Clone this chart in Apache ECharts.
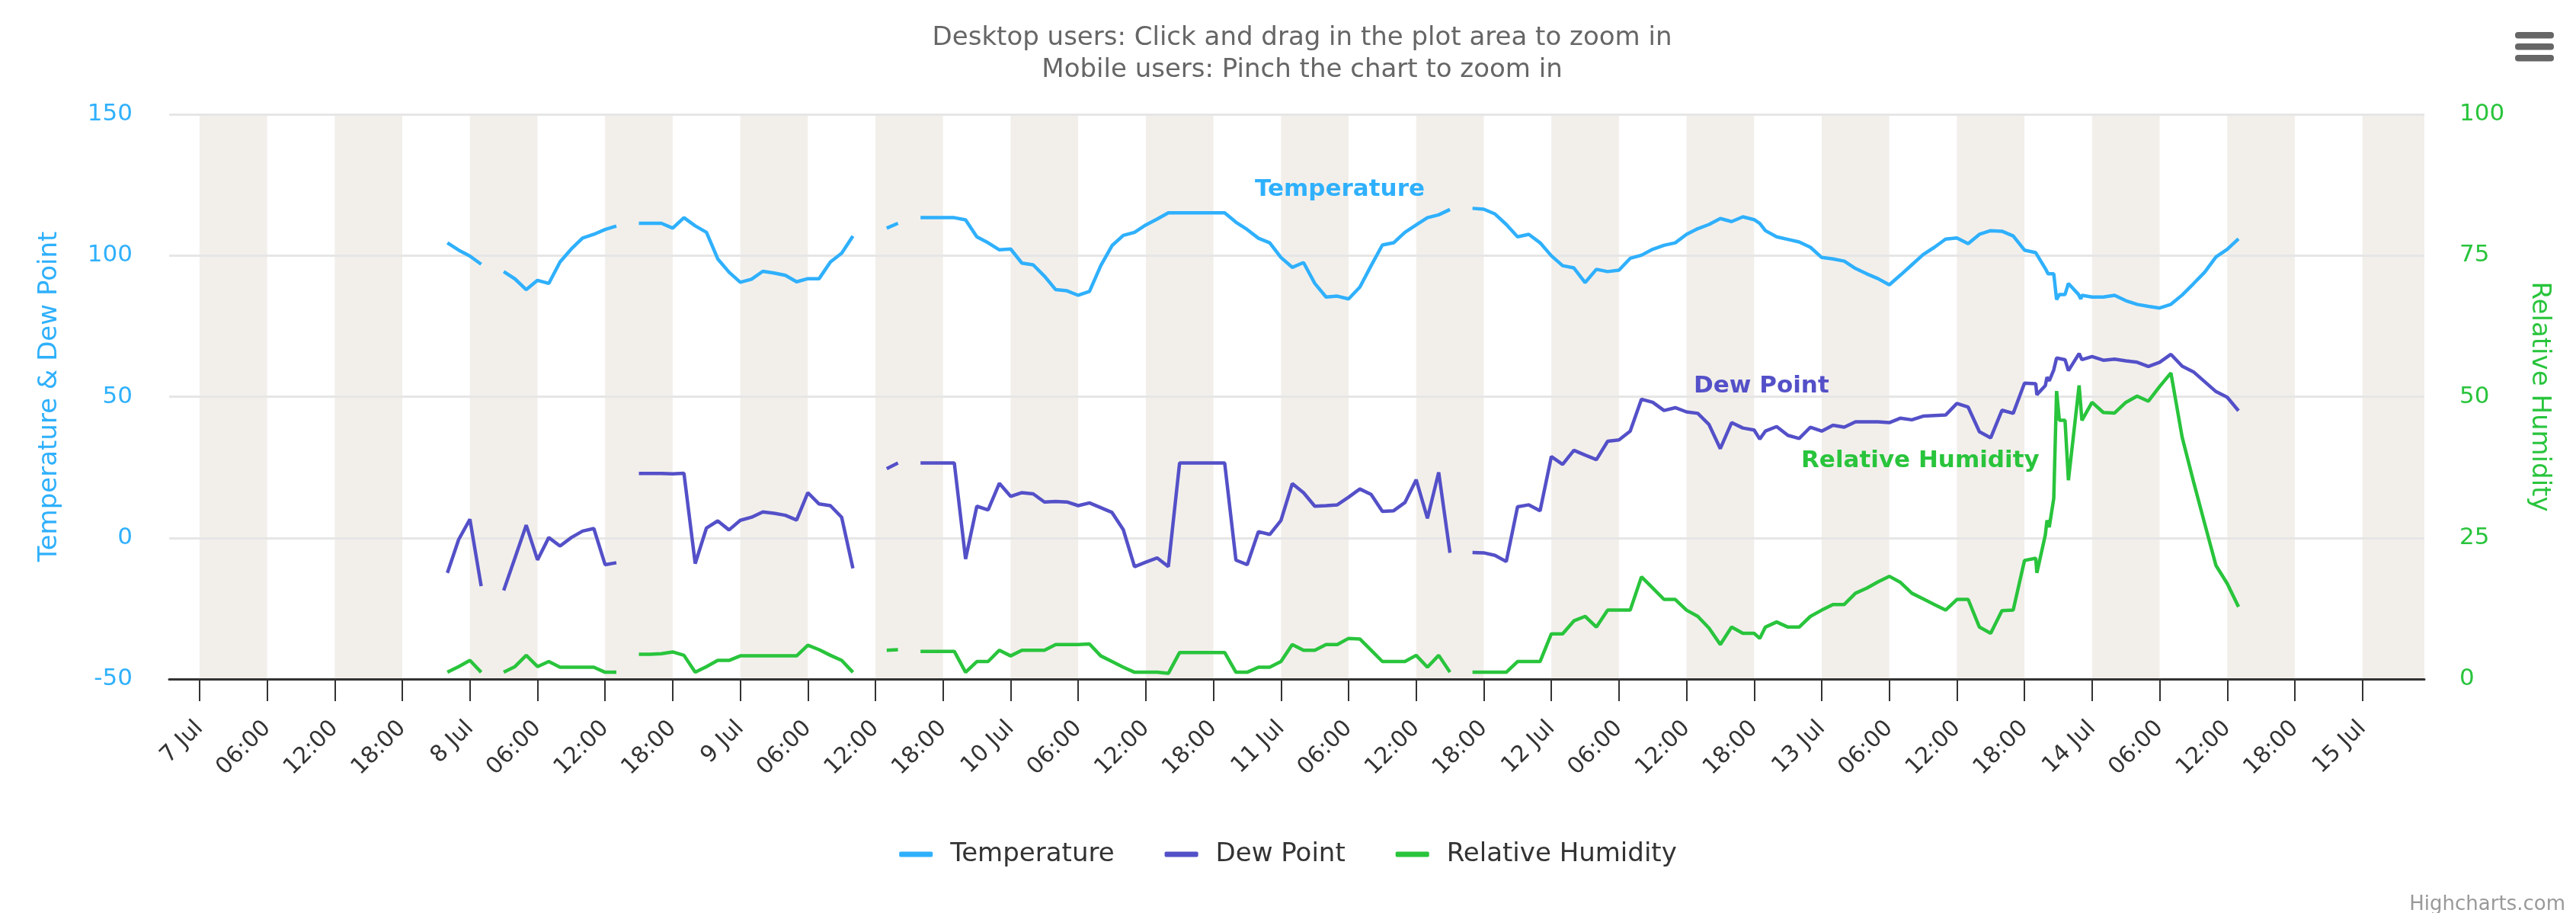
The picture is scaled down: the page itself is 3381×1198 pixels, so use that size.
<!DOCTYPE html>
<html>
<head>
<meta charset="utf-8">
<script src="https://cdn.jsdelivr.net/npm/echarts@6/dist/echarts.min.js"></script>
<style>
html, body { margin: 0; padding: 0; background: #fff; }
#chart { width: 3381px; height: 1198px; }
</style>
</head>
<body>
<div id="chart"></div>
<script>
// hours counted from 7 Jul 00:00
var xMin = -2.7, xMax = 197.5;
var tickHours = [0, 6, 12, 18, 24, 30, 36, 42, 48, 54, 60, 66, 72, 78, 84, 90, 96,
  102, 108, 114, 120, 126, 132, 138, 144, 150, 156, 162, 168, 174, 180, 186, 192];
var bandStarts = [0, 12, 24, 36, 48, 60, 72, 84, 96, 108, 120, 132, 144, 156, 168, 180, 192];

var temperature = [
  [22,104.5],[23,101.9],[24,99.8],[25,96.9],[26,null],
  [27,94.3],[28,91.7],[29,87.9],[30,91.2],[31,90.1],[32,97.7],[33,102.3],[34,106.2],[35,107.5],[36,109.2],[37,110.4],[38,null],
  [39,111.4],[40,111.4],[41,111.4],[42,109.7],[43,113.4],[44,110.5],[45,108.2],[46,98.8],[47,94.1],[48,90.5],[49,91.6],
  [50,94.4],[51,93.8],[52,93.0],[53,90.7],[54,91.8],[55,91.8],[56,97.7],[57,100.8],[58,106.9],[59,null],
  [61,109.7],[62,111.4],[63,null],
  [64,113.4],[65,113.4],[66,113.4],[67,113.4],[68,112.6],[69,106.6],[70,104.5],[71,102.0],[72,102.3],[73,97.3],[74,96.7],
  [75,92.7],[76,87.9],[77,87.5],[78,85.9],[79,87.3],[80,96.4],[81,103.5],[82,107.1],[83,108.2],[84,110.8],[85,112.9],
  [86,115.1],[87,115.1],[88,115.1],[89,115.1],[90,115.1],[91,115.1],[92,111.8],[93,109.2],[94,106.1],[95,104.5],[96,99.3],
  [97,95.8],[98,97.5],[99,90.1],[100,85.3],[101,85.6],[102,84.6],[103,88.8],[104,96.4],[105,103.7],[106,104.5],[107,108.2],
  [108,110.8],[109,113.4],[110,114.4],[111,116.3],[112,null],
  [113,116.7],[114,116.4],[115,114.7],[116,111.0],[117,106.6],[118,107.5],[119,104.5],[120,99.9],[121,96.4],[122,95.6],
  [123,90.4],[124,95.1],[125,94.3],[126,94.8],[127,99.0],[128,100.1],[129,102.2],[130,103.6],[131,104.5],[132,107.5],
  [133,109.5],[134,111.0],[135,113.1],[136,112.0],[137,113.7],[138,112.7],[138.5,111.4],[139,108.8],[140,106.6],[141,105.7],
  [142,104.8],[143,102.9],[144,99.3],[145,98.8],[146,98.0],[147,95.4],[148,93.5],[149,91.8],[150,89.6],[151,93.1],
  [152,96.7],[153,100.3],[154,102.9],[155,105.8],[156,106.2],[157,104.2],[158,107.5],[159,108.8],[160,108.6],[161,106.9],
  [162,101.9],[163,101.0],[163.85,95.4],[164.1,93.5],[164.6,93.5],[164.85,84.4],[165.1,86.2],[165.6,86.2],[165.9,90.1],
  [166.8,86.2],[167.0,84.6],[167.1,85.9],[168,85.3],[169,85.3],[170,85.9],[171,84.0],[172,82.7],[173,82.0],[174,81.4],
  [175,82.7],[176,86.0],[177,90.0],[178,94.1],[179,99.5],[180,102.2],[181,105.9]
];

var dewPoint = [
  [22,-12.4],[23,-0.6],[24,6.6],[25,-17.1],[26,null],
  [27,-18.6],[28,-7.1],[29,4.5],[30,-7.8],[31,0.1],[32,-2.9],[33,0.1],[34,2.4],[35,3.3],[36,-9.5],[37,-8.8],[38,null],
  [39,22.8],[40,22.8],[41,22.8],[42,22.7],[43,22.9],[44,-9.1],[45,3.5],[46,6.0],[47,2.8],[48,6.2],[49,7.3],
  [50,9.2],[51,8.7],[52,8.0],[53,6.3],[54,16.0],[55,12.0],[56,11.4],[57,7.3],[58,-10.8],[59,null],
  [61,24.5],[62,26.5],[63,null],
  [64,26.5],[65,26.5],[66,26.5],[67,26.5],[68,-7.5],[69,11.2],[70,9.9],[71,19.3],[72,14.7],[73,16.0],[74,15.6],
  [75,12.7],[76,12.9],[77,12.7],[78,11.4],[79,12.4],[80,10.7],[81,9.0],[82,2.9],[83,-10.2],[84,-8.6],[85,-7.1],
  [86,-10.2],[87,26.5],[88,26.5],[89,26.5],[90,26.5],[91,26.5],[92,-7.9],[93,-9.5],[94,2.2],[95,1.2],[96,6.2],
  [97,19.2],[98,16.0],[99,11.2],[100,11.4],[101,11.7],[102,14.4],[103,17.3],[104,15.4],[105,9.4],[106,9.6],[107,12.5],
  [108,20.6],[109,6.9],[110,23.2],[111,-5.3],[112,null],
  [113,-5.2],[114,-5.3],[115,-6.2],[116,-8.4],[117,11.0],[118,11.7],[119,9.6],[120,28.8],[121,26.0],[122,31.0],
  [123,29.3],[124,27.7],[125,34.2],[126,34.7],[127,37.8],[128,49.1],[129,48.0],[130,45.1],[131,46.1],[132,44.6],
  [133,44.1],[134,40.1],[135,31.6],[136,40.8],[137,38.9],[138,38.2],[138.5,35.0],[139,37.8],[140,39.4],[141,36.3],
  [142,35.2],[143,39.2],[144,37.8],[145,39.9],[146,39.2],[147,41.1],[148,41.1],[149,41.1],[150,40.8],[151,42.4],
  [152,41.8],[153,43.1],[154,43.3],[155,43.5],[156,47.6],[157,46.3],[158,37.6],[159,35.4],[160,45.2],[161,44.1],
  [162,54.8],[163,54.6],[163.1,50.7],[163.85,53.9],[164.0,56.9],[164.2,55.6],[164.6,59.5],[164.85,63.7],[165.6,63.1],
  [165.9,59.2],[166.85,65.3],[167.1,63.1],[168,64.2],[169,62.9],[170,63.3],[171,62.7],[172,62.2],[173,60.7],[174,62.2],
  [175,65.0],[176,60.8],[177,58.8],[178,55.3],[179,51.8],[180,49.8],[181,45.0]
];

var humidity = [
  [22,1.2],[23,2.2],[24,3.3],[25,1.2],[26,null],
  [27,1.2],[28,2.2],[29,4.2],[30,2.2],[31,3.1],[32,2.1],[33,2.1],[34,2.1],[35,2.1],[36,1.2],[37,1.2],[38,null],
  [39,4.4],[40,4.4],[41,4.5],[42,4.8],[43,4.2],[44,1.2],[45,2.2],[46,3.3],[47,3.3],[48,4.1],[49,4.1],
  [50,4.1],[51,4.1],[52,4.1],[53,4.1],[54,6.0],[55,5.2],[56,4.2],[57,3.3],[58,1.2],[59,null],
  [61,5.1],[62,5.2],[63,null],
  [64,4.9],[65,4.9],[66,4.9],[67,4.9],[68,1.2],[69,3.1],[70,3.1],[71,5.1],[72,4.1],[73,5.1],[74,5.1],
  [75,5.1],[76,6.1],[77,6.1],[78,6.1],[79,6.2],[80,4.1],[81,3.1],[82,2.1],[83,1.2],[84,1.2],[85,1.2],
  [86,1.0],[87,4.7],[88,4.7],[89,4.7],[90,4.7],[91,4.7],[92,1.2],[93,1.2],[94,2.1],[95,2.1],[96,3.1],
  [97,6.1],[98,5.1],[99,5.1],[100,6.1],[101,6.1],[102,7.2],[103,7.1],[104,5.1],[105,3.1],[106,3.1],[107,3.1],
  [108,4.2],[109,2.1],[110,4.2],[111,1.2],[112,null],
  [113,1.2],[114,1.2],[115,1.2],[116,1.2],[117,3.1],[118,3.1],[119,3.1],[120,8.0],[121,8.0],[122,10.3],
  [123,11.1],[124,9.2],[125,12.2],[126,12.2],[127,12.2],[128,18.1],[129,16.1],[130,14.1],[131,14.1],[132,12.2],
  [133,11.1],[134,9.0],[135,6.1],[136,9.2],[137,8.1],[138,8.1],[138.5,7.2],[139,9.2],[140,10.1],[141,9.2],
  [142,9.2],[143,11.1],[144,12.2],[145,13.2],[146,13.2],[147,15.2],[148,16.1],[149,17.2],[150,18.2],[151,17.1],
  [152,15.2],[153,14.2],[154,13.2],[155,12.2],[156,14.1],[157,14.1],[158,9.2],[159,8.1],[160,12.1],[161,12.2],
  [162,21.0],[163,21.4],[163.1,18.8],[163.85,25.5],[164.0,28.1],[164.2,26.9],[164.6,32.0],[164.85,51.0],[165.1,45.8],
  [165.6,45.8],[165.9,35.2],[166.85,52.0],[167.1,45.8],[168,49.0],[169,47.2],[170,47.1],[171,49.0],[172,50.1],
  [173,49.2],[174,51.8],[175,54.2],[176,42.8],[177,35.0],[178,27.5],[179,20.1],[180,16.9],[181,12.8]
];

var tempColor = '#2fb0fc', dewColor = '#5450c8', humColor = '#29c43c';
var font = 'DejaVu Sans';

function hourLabel(v) {
  var h = ((v % 24) + 24) % 24;
  if (h === 0) return (7 + v / 24) + ' Jul';
  return (h < 10 ? '0' : '') + h + ':00';
}

var bands = bandStarts.map(function (s) {
  return [{ xAxis: s }, { xAxis: Math.min(s + 6, xMax) }];
});

var myChart = echarts.init(document.getElementById('chart'));

var option = {
  animation: false,
  title: {
    text: 'Desktop users: Click and drag in the plot area to zoom in\nMobile users: Pinch the chart to zoom in',
    left: 1704, top: 24, textAlign: 'center',
    textStyle: { fontFamily: font, fontSize: 34, fontWeight: 'normal', color: '#666', lineHeight: 42 }
  },
  legend: {
    bottom: 55, left: 'center', padding: [5, 5, 5, 40],
    icon: 'roundRect', itemWidth: 44, itemHeight: 7, itemGap: 66,
    textStyle: { fontFamily: font, fontSize: 34, color: '#333', padding: [0, 0, 0, 18] },
    data: ['Temperature', 'Dew Point', 'Relative Humidity']
  },
  grid: { left: 222, right: 199, top: 150, bottom: 307 },
  xAxis: {
    type: 'value', min: xMin, max: xMax,
    axisLine: { onZero: false, lineStyle: { color: '#333', width: 3 } },
    axisTick: { customValues: tickHours, length: 29, lineStyle: { color: '#333', width: 2 } },
    axisLabel: {
      customValues: tickHours, rotate: 45, margin: 60, formatter: hourLabel,
      fontFamily: font, fontSize: 30, color: '#333'
    },
    splitLine: { show: false }
  },
  yAxis: [{
    type: 'value', min: -50, max: 150, interval: 50,
    name: 'Temperature & Dew Point', nameLocation: 'middle', nameGap: 140, nameRotate: 90,
    nameTextStyle: { fontFamily: font, fontSize: 34, color: tempColor },
    axisLabel: { margin: 48, fontFamily: font, fontSize: 31, color: tempColor },
    axisLine: { show: false }, axisTick: { show: false },
    splitLine: { lineStyle: { color: '#e6e6e6', width: 3 } }
  }, {
    type: 'value', min: 0, max: 100, interval: 25, position: 'right',
    name: 'Relative Humidity', nameLocation: 'middle', nameGap: 134, nameRotate: -90,
    nameTextStyle: { fontFamily: font, fontSize: 34, color: humColor },
    axisLabel: { margin: 46, fontFamily: font, fontSize: 31, color: humColor },
    axisLine: { show: false }, axisTick: { show: false },
    splitLine: { show: false }
  }],
  series: [{
    name: 'Temperature', type: 'line', data: temperature, yAxisIndex: 0,
    showSymbol: false, connectNulls: false, color: tempColor,
    lineStyle: { width: 4.5, color: tempColor },
    markArea: { silent: true, z: -1, itemStyle: { color: '#f2efeb' }, data: bands }
  }, {
    name: 'Dew Point', type: 'line', data: dewPoint, yAxisIndex: 0,
    showSymbol: false, connectNulls: false, color: dewColor,
    lineStyle: { width: 4.5, color: dewColor }
  }, {
    name: 'Relative Humidity', type: 'line', data: humidity, yAxisIndex: 1,
    showSymbol: false, connectNulls: false, color: humColor,
    lineStyle: { width: 4.5, color: humColor }
  }],
  graphic: [
    { type: 'text', x: 1647, y: 249, style: { text: 'Temperature', fill: tempColor, font: 'bold 31px "DejaVu Sans"', verticalAlign: 'middle' } },
    { type: 'text', x: 2223, y: 507, style: { text: 'Dew Point', fill: dewColor, font: 'bold 31px "DejaVu Sans"', verticalAlign: 'middle' } },
    { type: 'text', x: 2364, y: 605, style: { text: 'Relative Humidity', fill: humColor, font: 'bold 31px "DejaVu Sans"', verticalAlign: 'middle' } },
    { type: 'rect', shape: { x: 3301, y: 42, width: 51, height: 8.5, r: 4 }, style: { fill: '#666' } },
    { type: 'rect', shape: { x: 3301, y: 57, width: 51, height: 8.5, r: 4 }, style: { fill: '#666' } },
    { type: 'rect', shape: { x: 3301, y: 72, width: 51, height: 8.5, r: 4 }, style: { fill: '#666' } },
    { type: 'text', x: 3367, y: 1187, style: { text: 'Highcharts.com', fill: '#999', font: '26px "DejaVu Sans"', align: 'right', verticalAlign: 'middle' } }
  ]
};

myChart.setOption(option);
</script>
</body>
</html>
